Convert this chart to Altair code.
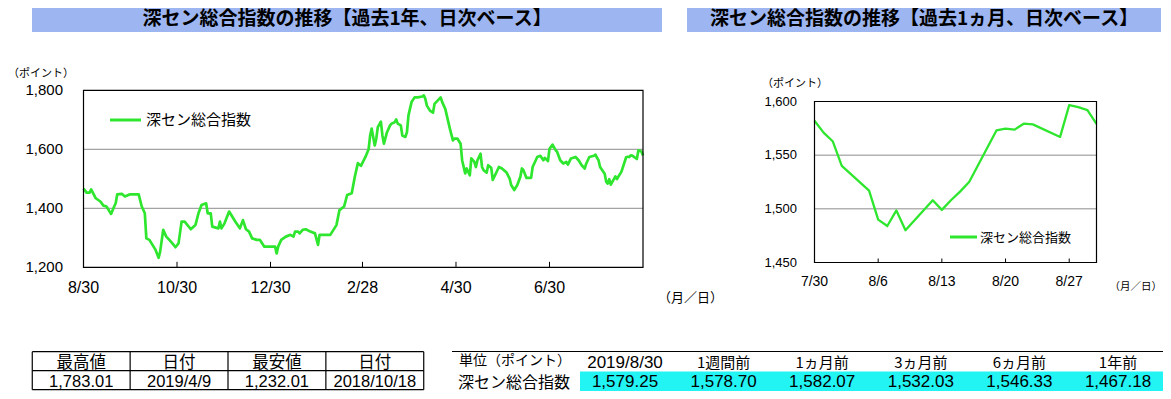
import altair as alt
import pandas as pd

# ---------------- data ----------------
series_name = "深セン総合指数"
title_1y = "深セン総合指数の推移【過去1年、日次ベース】"
title_1m = "深セン総合指数の推移【過去1ヵ月、日次ベース】"
unit_label = "（ポイント）"
date_unit_label = "（月／日）"

start_1y = "2018-08-30"
end_1y = "2019-08-30"
# trading-day offsets (days since 2018-08-30) and index levels, 1-year chart
days_1y = [0, 2, 4, 5, 8, 11, 13, 15, 17, 18, 20, 21, 22, 25, 27, 30, 36, 38, 40, 41,
           43, 45, 47, 49, 50, 52, 54, 56, 58, 60, 62, 64, 66, 70, 73, 75, 77, 80, 81, 83,
           84, 88, 89, 90, 92, 95, 99, 102, 104, 106, 108, 110, 113, 115, 118, 120, 125, 126, 127, 129,
           132, 135, 137, 138, 140, 141, 143, 145, 148, 151, 153, 154, 161, 165, 167, 170, 172, 175, 177, 179,
           181, 184, 186, 187, 188, 190, 191, 192, 194, 195, 196, 198, 200, 201, 203, 204, 205, 207, 208, 210,
           211, 212, 214, 216, 218, 221, 222, 223, 224, 226, 228, 229, 231, 233, 234, 236, 237, 239, 241, 242,
           244, 246, 247, 249, 250, 252, 253, 255, 256, 257, 259, 260, 261, 263, 264, 266, 267, 269, 271, 273,
           276, 278, 279, 281, 283, 285, 286, 287, 289, 292, 293, 296, 298, 300, 301, 303, 304, 306, 308, 309,
           311, 313, 315, 316, 318, 321, 323, 325, 327, 328, 330, 333]
vals_1y = [1467.18, 1453, 1453, 1464, 1434, 1423, 1409, 1406, 1389, 1381, 1406, 1417, 1447, 1449, 1440, 1447, 1447, 1406, 1383, 1298,
           1293, 1276, 1259, 1232.01, 1253, 1327, 1304, 1293, 1281, 1268, 1281, 1355, 1355, 1329, 1343, 1383, 1411, 1417, 1383, 1383,
           1338, 1332, 1355, 1332, 1349, 1389, 1355, 1332, 1360, 1329, 1321, 1298, 1293, 1293, 1270, 1270, 1270, 1247, 1270, 1293,
           1304, 1310, 1304, 1321, 1321, 1315, 1327, 1329, 1321, 1315, 1276, 1310, 1310, 1343, 1394, 1406, 1445, 1451, 1507, 1553,
           1544, 1575, 1600, 1647, 1670, 1613, 1636, 1675, 1694, 1647, 1619, 1658, 1681, 1687, 1692, 1701, 1687, 1681, 1647, 1642,
           1658, 1715, 1760, 1776, 1776, 1779, 1783.01, 1771, 1748, 1731, 1724, 1754, 1765, 1776, 1760, 1737, 1715, 1670, 1630, 1636,
           1636, 1619, 1563, 1518, 1535, 1512, 1569, 1557, 1540, 1563, 1585, 1540, 1529, 1521, 1546, 1537, 1496, 1518, 1540, 1535,
           1521, 1501, 1479, 1462, 1479, 1507, 1535, 1529, 1503, 1503, 1540, 1574, 1578, 1563, 1571, 1560, 1602, 1616, 1597, 1591,
           1563, 1552, 1557, 1548, 1569, 1574, 1563, 1546, 1535, 1552, 1574, 1578]

# last month (also the tail of the 1-year series)
dates_1m = ["2019-07-30", "2019-07-31", "2019-08-01", "2019-08-02", "2019-08-05", "2019-08-06",
            "2019-08-07", "2019-08-08", "2019-08-09", "2019-08-12", "2019-08-13", "2019-08-14",
            "2019-08-15", "2019-08-16", "2019-08-19", "2019-08-20", "2019-08-21", "2019-08-22",
            "2019-08-23", "2019-08-26", "2019-08-27", "2019-08-28", "2019-08-29", "2019-08-30"]
vals_1m = [1582.07, 1571, 1563, 1540, 1517, 1490, 1484, 1498.5, 1480, 1508, 1499, 1508,
           1516, 1525, 1573, 1574.7, 1573.8, 1579.3, 1578.70, 1567, 1596.6, 1594.8, 1592, 1579.25]

ticks_1y = ["2018-08-30", "2018-10-30", "2018-12-30", "2019-02-28", "2019-04-30", "2019-06-30"]
ticklabels_1y = ["8/30", "10/30", "12/30", "2/28", "4/30", "6/30"]
yticks_1y = [1200, 1400, 1600, 1800]
grid_1y = [1400, 1600]

start_1m = "2019-07-30"
end_1m = "2019-08-30"
ticks_1m = ["2019-07-30", "2019-08-06", "2019-08-13", "2019-08-20", "2019-08-27"]
ticklabels_1m = ["7/30", "8/6", "8/13", "8/20", "8/27"]
yticks_1m = [1450, 1500, 1550, 1600]
grid_1m = [1500, 1550]

t1_head = ["最高値", "日付", "最安値", "日付"]
t1_vals = ["1,783.01", "2019/4/9", "1,232.01", "2018/10/18"]

t2_corner = "単位（ポイント）"
t2_head = ["2019/8/30", "1週間前", "1ヵ月前", "3ヵ月前", "6ヵ月前", "1年前"]
t2_vals = [1579.25, 1578.70, 1582.07, 1532.03, 1546.33, 1467.18]

# ---------------- styling / layout ----------------
M = 8  # page margin
JP = "Noto Sans CJK JP"
NUM = "Liberation Sans"
GREEN = "#2fe62f"
TITLE_BG = "#9db5f0"
CYAN = "#22f3f3"
GRID = "#8c8c8c"


def X(v):
    return v - M


def Y(v):
    return v - M


def iso(d):
    return pd.Timestamp(d).strftime("%Y-%m-%dT00:00:00")


def dt(s):
    t = pd.Timestamp(s)
    return alt.DateTime(year=t.year, month=t.month, date=t.day)


# ---------------- tables of data ----------------
dates_1y = [iso(pd.Timestamp(start_1y) + pd.Timedelta(days=d)) for d in days_1y] + [iso(d) for d in dates_1m]
df_1y = pd.DataFrame({"date": dates_1y, "v": vals_1y + vals_1m})
df_1m = pd.DataFrame({"date": [iso(d) for d in dates_1m], "v": vals_1m})

# scales: place each panel by its own pixel range
xs1 = alt.Scale(domain=[dt(start_1y), dt(end_1y)], range=[X(83.5), X(643)], nice=False)
ys1 = alt.Scale(domain=[1200, 1800], range=[Y(267.3), Y(90.3)], zero=False, nice=False)
xs2 = alt.Scale(domain=[dt(start_1m), dt(end_1m)], range=[X(814.5), X(1096.5)], nice=False)
ys2 = alt.Scale(domain=[1450, 1600], range=[Y(262.5), Y(101.5)], zero=False, nice=False)

layers = []


def panel(df, xs, ys, start, end, grid, yticks, ticks, ticklabels, lw, tick_len,
          ylab_x, ylab_size, xlab_y, xlab_size):
    out = []
    g = pd.DataFrame({"v": grid, "a": iso(start), "b": iso(end)})
    out.append(alt.Chart(g).mark_rule(color=GRID, strokeWidth=1).encode(
        x=alt.X("a:T", scale=xs, axis=None), x2="b:T",
        y=alt.Y("v:Q", scale=ys, axis=None)))
    tk = pd.DataFrame({"date": [iso(t) for t in ticks[1:]]})
    out.append(alt.Chart(tk).mark_rule(color="black", strokeWidth=1).encode(
        x=alt.X("date:T", scale=xs, axis=None),
        y=alt.value(ys["range"][0] - tick_len), y2=alt.value(ys["range"][0])))
    out.append(alt.Chart(df).mark_line(color=GREEN, strokeWidth=lw, strokeJoin="round").encode(
        x=alt.X("date:T", scale=xs, axis=None),
        y=alt.Y("v:Q", scale=ys, axis=None)))
    fr = pd.DataFrame({"a": [iso(start)], "b": [iso(end)], "lo": [yticks[0]], "hi": [yticks[-1]]})
    out.append(alt.Chart(fr).mark_rect(fillOpacity=0, stroke="black", strokeWidth=1.2).encode(
        x=alt.X("a:T", scale=xs, axis=None), x2="b:T",
        y=alt.Y("lo:Q", scale=ys, axis=None), y2="hi:Q"))
    yl = pd.DataFrame({"v": yticks})
    out.append(alt.Chart(yl).mark_text(align="right", baseline="middle", font=NUM,
                                       fontSize=ylab_size, color="black").encode(
        x=alt.value(ylab_x), y=alt.Y("v:Q", scale=ys, axis=None),
        text=alt.Text("v:Q", format=",")))
    xl = pd.DataFrame({"date": [iso(t) for t in ticks], "lab": ticklabels})
    out.append(alt.Chart(xl).mark_text(align="center", baseline="middle", font=NUM,
                                       fontSize=xlab_size, color="black").encode(
        x=alt.X("date:T", scale=xs, axis=None), y=alt.value(xlab_y), text="lab:N"))
    return out


def text_layer(txt, x, y, size, align="left", weight="normal", font=JP):
    return alt.Chart(pd.DataFrame({"t": [txt]})).mark_text(
        align=align, baseline="middle", font=font, fontSize=size, fontWeight=weight,
        color="black").encode(x=alt.value(x), y=alt.value(y), text="t:N")


def rect_layer(x0, x1, y0, y1, color):
    return alt.Chart(pd.DataFrame({"k": [0]})).mark_rect(color=color).encode(
        x=alt.value(x0), x2=alt.value(x1), y=alt.value(y0), y2=alt.value(y1))


def hline(x0, x1, y, w=1.2, color="black"):
    return alt.Chart(pd.DataFrame({"k": [0]})).mark_rule(color=color, strokeWidth=w).encode(
        x=alt.value(x0), x2=alt.value(x1), y=alt.value(y))


# title bars
layers.append(rect_layer(X(32), X(662), Y(3), Y(32), TITLE_BG))
layers.append(rect_layer(X(687), X(1161), Y(3), Y(32), TITLE_BG))
layers.append(text_layer(title_1y, X(347), Y(19), 19, align="center", weight="bold"))
layers.append(text_layer(title_1m, X(924), Y(19), 19, align="center", weight="bold"))

# panels
layers += panel(df_1y, xs1, ys1, start_1y, end_1y, grid_1y, yticks_1y, ticks_1y, ticklabels_1y,
                2.7, 5.5, X(63), 15, Y(288), 16)
layers += panel(df_1m, xs2, ys2, start_1m, end_1m, grid_1m, yticks_1m, ticks_1m, ticklabels_1m,
                2.3, 4, X(797), 13, Y(282), 14)

# unit labels
layers.append(text_layer(unit_label, X(8), Y(74), 11, align="left"))
layers.append(text_layer(unit_label, X(762), Y(84), 11, align="left"))
layers.append(text_layer(date_unit_label, X(658), Y(298), 13))
layers.append(text_layer(date_unit_label, X(1162), Y(287), 10.5, align="right"))

# legends
layers.append(alt.Chart(pd.DataFrame({"k": [0]})).mark_rule(color=GREEN, strokeWidth=3).encode(
    x=alt.value(X(110)), x2=alt.value(X(141)), y=alt.value(Y(120))))
layers.append(text_layer(series_name, X(146), Y(120), 15))
layers.append(alt.Chart(pd.DataFrame({"k": [0]})).mark_rule(color=GREEN, strokeWidth=3).encode(
    x=alt.value(X(950)), x2=alt.value(X(977)), y=alt.value(Y(237))))
layers.append(text_layer(series_name, X(980), Y(238), 13))

# ---------------- table 1 (high / low) ----------------
cs1 = alt.Scale(domain=[0, 3], range=[X(81.2), X(374.8)], zero=False, nice=False)
rs1 = alt.Scale(domain=[0, 1], range=[Y(361.2), Y(380.2)], zero=False, nice=False)
t1h = pd.DataFrame({"c": list(range(4)), "r": 0, "t": t1_head})
t1v = pd.DataFrame({"c": list(range(4)), "r": 1, "t": t1_vals})
layers.append(alt.Chart(t1h).mark_text(baseline="middle", fontSize=16.5, color="black", dy=1.5,
                                       font=JP).encode(
    x=alt.X("c:Q", scale=cs1, axis=None), y=alt.Y("r:Q", scale=rs1, axis=None), text="t:N"))
layers.append(alt.Chart(t1v).mark_text(baseline="middle", fontSize=16.5, color="black", dy=1.5,
                                       font=NUM).encode(
    x=alt.X("c:Q", scale=cs1, axis=None), y=alt.Y("r:Q", scale=rs1, axis=None), text="t:N"))
vb = pd.DataFrame({"c": [-0.5, 0.5, 1.5, 2.5, 3.5], "r0": -0.5, "r1": 1.5})
layers.append(alt.Chart(vb).mark_rule(color="black", strokeWidth=1.2).encode(
    x=alt.X("c:Q", scale=cs1, axis=None), y=alt.Y("r0:Q", scale=rs1, axis=None), y2="r1:Q"))
hb = pd.DataFrame({"r": [-0.5, 0.5, 1.5], "c0": -0.5, "c1": 3.5})
layers.append(alt.Chart(hb).mark_rule(color="black", strokeWidth=1.2).encode(
    x=alt.X("c0:Q", scale=cs1, axis=None), x2="c1:Q", y=alt.Y("r:Q", scale=rs1, axis=None)))

# ---------------- table 2 (recent levels) ----------------
layers.append(rect_layer(X(580), X(1167), Y(371.5), Y(395), CYAN))
layers.append(hline(X(452), X(1167), Y(351.5)))
cs2 = alt.Scale(domain=[0, 5], range=[X(625), X(1118)], zero=False, nice=False)
t2h = pd.DataFrame({"c": list(range(6)), "r": 0, "t": t2_head})
t2v = pd.DataFrame({"c": list(range(6)), "r": 1, "t": [f"{v:,.2f}" for v in t2_vals]})
layers.append(alt.Chart(t2h.iloc[:1]).mark_text(baseline="middle", fontSize=17, color="black", dy=1.5,
                                                font=NUM).encode(
    x=alt.X("c:Q", scale=cs2, axis=None), y=alt.Y("r:Q", scale=rs1, axis=None), text="t:N"))
layers.append(alt.Chart(t2h.iloc[1:]).mark_text(baseline="middle", fontSize=15, color="black", dy=1.5,
                                                font=JP).encode(
    x=alt.X("c:Q", scale=cs2, axis=None), y=alt.Y("r:Q", scale=rs1, axis=None), text="t:N"))
layers.append(alt.Chart(t2v).mark_text(baseline="middle", fontSize=17, color="black", dy=1.5,
                                       font=NUM).encode(
    x=alt.X("c:Q", scale=cs2, axis=None), y=alt.Y("r:Q", scale=rs1, axis=None), text="t:N"))
layers.append(text_layer(t2_corner, X(459), Y(361), 14))
layers.append(text_layer(series_name, X(458), Y(383), 16))

chart = alt.layer(*layers).resolve_scale(x="independent", y="independent").properties(
    width=1155, height=383, autosize=alt.AutoSizeParams(type="none"), padding=0,
    background="white"
).configure_view(stroke=None)

chart.save("out.html", embed_options={"renderer": "svg", "actions": False})
